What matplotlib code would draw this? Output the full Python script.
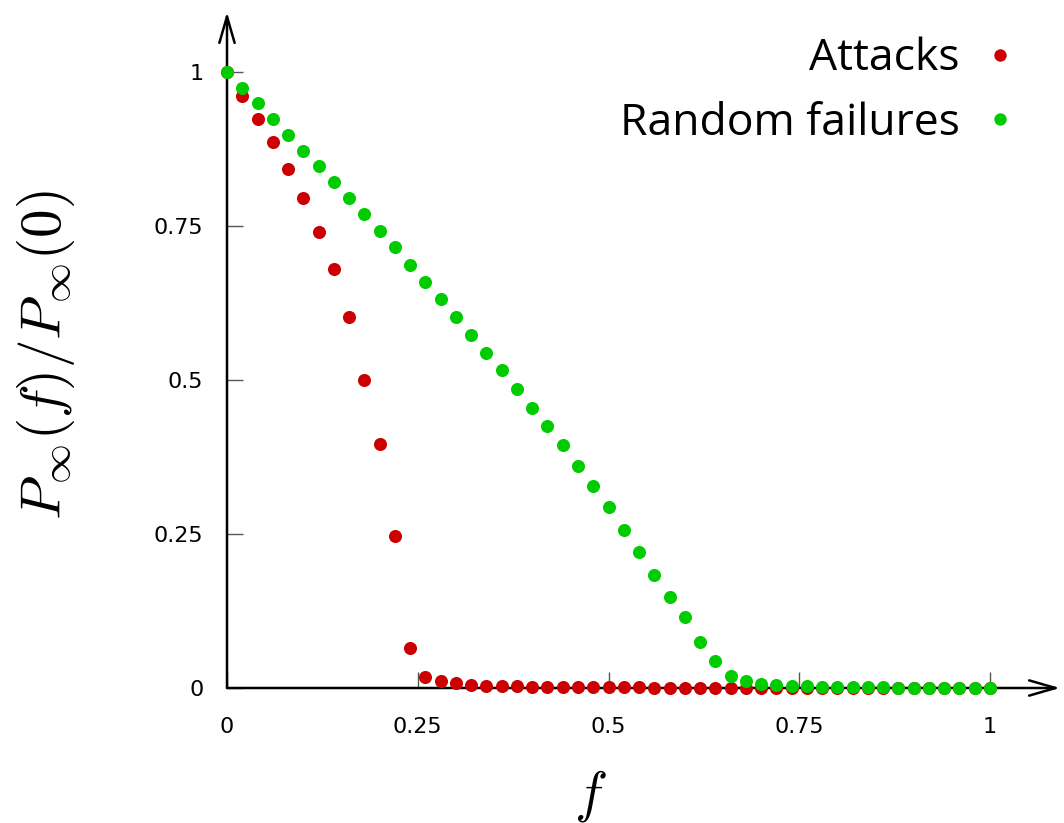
import numpy as np
import matplotlib.pyplot as plt

# fraction of removed nodes
f = [0.00, 0.02, 0.04, 0.06, 0.08, 0.10, 0.12, 0.14, 0.16, 0.18,
     0.20, 0.22, 0.24, 0.26, 0.28, 0.30, 0.32, 0.34, 0.36, 0.38,
     0.40, 0.42, 0.44, 0.46, 0.48, 0.50, 0.52, 0.54, 0.56, 0.58,
     0.60, 0.62, 0.64, 0.66, 0.68, 0.70, 0.72, 0.74, 0.76, 0.78,
     0.80, 0.82, 0.84, 0.86, 0.88, 0.90, 0.92, 0.94, 0.96, 0.98, 1.00]

attacks = [1.000, 0.961, 0.924, 0.886, 0.843, 0.795, 0.740, 0.680, 0.602, 0.500,
           0.396, 0.247, 0.065, 0.018, 0.011, 0.008, 0.005, 0.004, 0.003, 0.003,
           0.002, 0.002, 0.002, 0.001, 0.001, 0.001, 0.001, 0.001, 0.000, 0.000,
           0.000, 0.000, 0.000, 0.000, 0.000, 0.000, 0.000, 0.000, 0.000, 0.000,
           0.000, 0.000, 0.000, 0.000, 0.000, 0.000, 0.000, 0.000, 0.000, 0.000, 0.000]

random_fail = [1.000, 0.974, 0.950, 0.924, 0.898, 0.872, 0.847, 0.821, 0.795, 0.769,
               0.742, 0.716, 0.687, 0.659, 0.632, 0.602, 0.573, 0.544, 0.516, 0.485,
               0.455, 0.425, 0.394, 0.360, 0.328, 0.294, 0.256, 0.221, 0.183, 0.148,
               0.115, 0.075, 0.044, 0.019, 0.011, 0.006, 0.005, 0.004, 0.003, 0.002,
               0.002, 0.001, 0.001, 0.001, 0.000, 0.000, 0.000, 0.000, 0.000, 0.000, 0.000]

ticks = [0, 0.25, 0.5, 0.75, 1]
tick_labels = ['0', '0.25', '0.5', '0.75', '1']

plt.rcParams['mathtext.fontset'] = 'cm'

W, H = 1064, 823
fig = plt.figure(figsize=(W / 100, H / 100), dpi=100)
# x=0 at px 227, x=1 at px 990; y=0 at px 688, y=1 at px 72
x0, x1, y0, y1 = 227, 1060, 688, 12
aw, ah = x1 - x0, y0 - y1
ax = fig.add_axes([x0 / W, 1 - y0 / H, aw / W, ah / H])
ax.set_xlim(0, aw / 763)
ax.set_ylim(0, ah / 616)
for s in ax.spines.values():
    s.set_visible(False)
ax.patch.set_visible(False)

# axis arrows
arrow = dict(arrowstyle='->,head_length=1.9,head_width=0.55', lw=1.8, color='black', shrinkA=0, shrinkB=0)
ax.annotate('', xy=(1, 0), xytext=(0, 0), xycoords='axes fraction', arrowprops=arrow)
ax.annotate('', xy=(0, 1), xytext=(0, 0), xycoords='axes fraction', arrowprops=arrow)

ax.plot(f, attacks, 'o', color='#cc0000', ms=9.4, mec='none', label='Attacks', clip_on=False, zorder=3)
ax.plot(f, random_fail, 'o', color='#00cc00', ms=9.4, mec='none', label='Random failures', clip_on=False, zorder=4)

ax.set_xticks(ticks)
ax.set_xticklabels(tick_labels)
ax.set_yticks(ticks)
ax.set_yticklabels(tick_labels)
ax.tick_params(axis='x', direction='in', length=11.5, width=1, color='#555555', pad=21, labelsize=16)
ax.tick_params(axis='y', direction='in', length=11.5, width=1, color='#555555', pad=17, labelsize=16)

ax.set_xlabel(r'$f$', fontsize=40)
ax.set_ylabel(r'$P_\infty(f)/P_\infty(0)$', fontsize=41)
ax.xaxis.set_label_coords((590 - x0) / aw, -(768 - y0) / ah)
ax.yaxis.set_label_coords(-(x0 - 77) / aw, (y0 - 355) / ah)

leg = ax.legend(loc='upper right', bbox_to_anchor=(1.0 - 29 / aw, 1.0 - 7 / ah),
                frameon=False, markerfirst=False, prop={'family': 'Open Sans', 'size': 32},
                handlelength=0.6, handletextpad=0.6, labelspacing=0.45, borderaxespad=0,
                markerscale=0.95)

fig.savefig('out.png', dpi=100)
